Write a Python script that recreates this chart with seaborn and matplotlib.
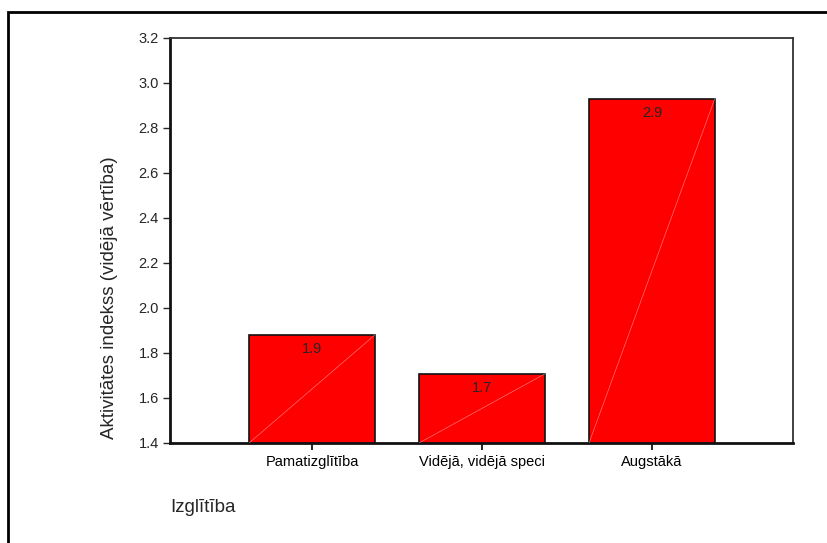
import matplotlib
matplotlib.use("Agg")
import matplotlib.pyplot as plt
import seaborn as sns
import pandas as pd
from matplotlib.patches import Rectangle

categories = ["Pamatizglītība", "Vidējā, vidējā speci", "Augstākā"]
values = [1.88, 1.707, 2.93]
labels = ["1.9", "1.7", "2.9"]
yticks = [1.4, 1.6, 1.8, 2.0, 2.2, 2.4, 2.6, 2.8, 3.0, 3.2]

df = pd.DataFrame({"edu": categories, "val": values})

sns.set_style("white")
plt.rcParams["font.family"] = ["Liberation Sans", "DejaVu Sans"]

fig = plt.figure(figsize=(8.27, 5.43), dpi=100)
ax = fig.add_axes([0.2056, 0.1842, 0.7533, 0.746])

sns.barplot(data=df, x="edu", y="val", color="#ff0000", saturation=1,
            edgecolor="#111111", linewidth=1.2, width=0.74, ax=ax, zorder=2)

ax.set_ylim(1.4, 3.2)
ax.set_xlim(-0.835, 2.83)
ax.set_yticks(yticks)
ax.set_yticklabels([f"{t:.1f}" for t in yticks], fontsize=10.5)
ax.tick_params(axis="x", labelsize=10.5, length=5, width=1.2, direction="out",
               bottom=True, pad=4, colors="black")
ax.tick_params(axis="y", length=5, width=1, direction="out", left=True, pad=3)

# faint diagonal streak inside each bar, then value labels
for bar, lab in zip(ax.patches, labels):
    x0 = bar.get_x()
    x1 = x0 + bar.get_width()
    top = bar.get_height()
    ax.plot([x0, x1], [1.4, top], color="white", lw=0.5, alpha=0.45, zorder=3)
    ax.annotate(lab, (x0 + bar.get_width() / 2, top), xytext=(0, -5),
                textcoords="offset points", ha="center", va="top",
                fontsize=10.5, zorder=4)

for side in ["left", "bottom"]:
    ax.spines[side].set_linewidth(2)
    ax.spines[side].set_color("#111111")
for side in ["top", "right"]:
    ax.spines[side].set_linewidth(1.3)
    ax.spines[side].set_color("#333333")

ax.set_xlabel("")
ax.set_ylabel("")
fig.text(110 / 827, 1 - 298 / 543, "Aktivitātes indekss (vidējā vērtība)",
         fontsize=13.5, rotation=90, ha="center", va="center")
fig.text(170 / 827, 1 - 508 / 543, "Izglītība", fontsize=13.5, ha="left", va="center")

# outer frame (right and bottom edges fall outside the image)
fig.patches.append(Rectangle((8 / 827, -0.1), 1.0, 1.1 - 12 / 543,
                             transform=fig.transFigure, fill=False,
                             edgecolor="black", linewidth=2))

fig.savefig("out.png", dpi=100)
